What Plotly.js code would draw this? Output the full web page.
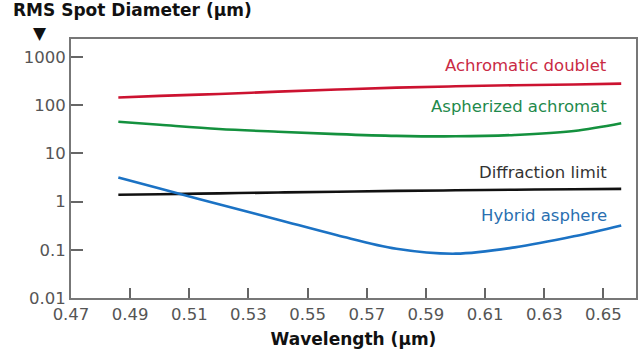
<!DOCTYPE html>
<html><head><meta charset="utf-8">
<script src="https://cdn.plot.ly/plotly-3.0.1.min.js"></script>
<style>html,body{margin:0;padding:0;background:#fff;}#chart{width:640px;height:360px;}</style>
</head><body><div id="chart"></div>
<script>
const wavelengths = [0.486, 0.50, 0.52, 0.54, 0.56, 0.58, 0.60, 0.62, 0.64, 0.656];
const achromaticDoublet = [144, 155, 170, 190, 210, 230, 245, 258, 268, 278];
const aspherizedAchromat = [45, 39, 32, 28, 25, 23, 22.5, 24, 29, 42];
const diffractionLimit = [1.38, 1.42, 1.48, 1.54, 1.6, 1.66, 1.71, 1.76, 1.8, 1.83];
const hybridAsphere = [3.14, 1.86, 0.88, 0.42, 0.20, 0.105, 0.083, 0.112, 0.19, 0.32];
const seriesNames = ["Achromatic doublet", "Aspherized achromat", "Diffraction limit", "Hybrid asphere"];
const xTicks = [0.47, 0.49, 0.51, 0.53, 0.55, 0.57, 0.59, 0.61, 0.63, 0.65];
const yTicks = [0.01, 0.1, 1, 10, 100, 1000];
const yTickText = ["0.01", "0.1", "1", "10", "100", "1000"];

const colors = ["#cc1230", "#14913e", "#111111", "#1b72c4"];
const labelColors = ["#c92a44", "#1f8a4c", "#333333", "#2a6fb0"];
const series = [achromaticDoublet, aspherizedAchromat, diffractionLimit, hybridAsphere];
const labelY = [650, 95, 4.0, 0.52];

const traces = series.map((s, i) => ({
  x: wavelengths, y: s, type: 'scatter', mode: 'lines', name: seriesNames[i],
  line: {color: colors[i], width: 2.6, shape: 'spline', smoothing: 1},
  hoverinfo: 'skip'
}));

const font = "'DejaVu Sans', sans-serif";
const annotations = seriesNames.map((n, i) => ({
  x: 0.652, y: Math.log10(labelY[i]), xref: 'x', yref: 'y', text: n,
  showarrow: false, xanchor: 'right', yanchor: 'middle',
  font: {family: font, size: 16.5, color: labelColors[i]}
}));
annotations.push({
  xref: 'paper', yref: 'paper', x: -0.107, y: 1.065, xanchor: 'left', yanchor: 'bottom',
  text: '<b>RMS Spot Diameter (µm)</b>', showarrow: false,
  font: {family: font, size: 17, color: '#111'}
});
annotations.push({
  xref: 'paper', yref: 'paper', x: -0.055, y: 1.022, xanchor: 'center', yanchor: 'middle',
  text: '▼', showarrow: false, font: {family: 'DejaVu Sans', size: 17, color: '#111'}
});

const layout = {
  width: 640, height: 360,
  margin: {l: 71, r: 4, t: 39, b: 62},
  paper_bgcolor: '#fff', plot_bgcolor: '#fff',
  showlegend: false,
  font: {family: font, size: 16.5, color: '#555'},
  xaxis: {
    range: [0.47, 0.661], tickvals: xTicks, ticktext: xTicks.map(v => v.toFixed(2)),
    ticks: 'inside', ticklen: 10, tickwidth: 2, tickcolor: '#666',
    showline: true, linecolor: '#777', linewidth: 2, mirror: true,
    showgrid: false, zeroline: false,
    tickfont: {family: font, size: 16.5, color: '#555'},
    title: {text: '<b>Wavelength (µm)</b>', font: {family: font, size: 17, color: '#111'}, standoff: 10}
  },
  yaxis: {
    type: 'log', range: [-2, 3.37], tickvals: yTicks, ticktext: yTickText,
    ticks: 'inside', ticklen: 12, tickwidth: 2, tickcolor: '#666',
    showline: true, linecolor: '#777', linewidth: 2, mirror: true,
    showgrid: false, zeroline: false,
    tickfont: {family: font, size: 16.5, color: '#555'}
  },
  annotations: annotations
};
Plotly.newPlot('chart', traces, layout, {staticPlot: true, displayModeBar: false});
</script>
</body></html>
